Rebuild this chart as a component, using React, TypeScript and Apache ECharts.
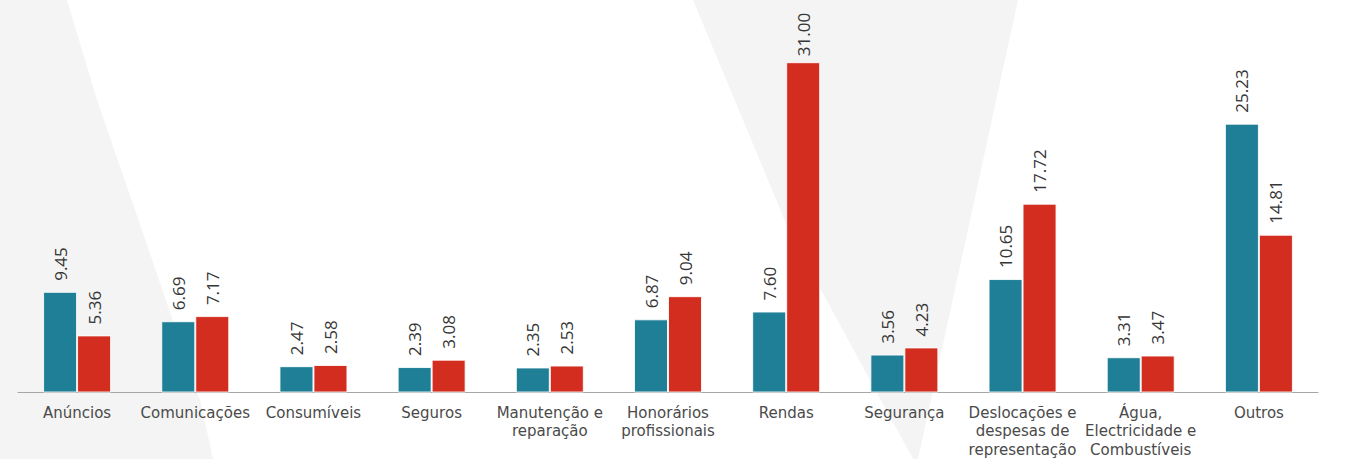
import React, { useEffect, useRef } from "react";
import * as echarts from "echarts";

const categories = [
  "Anúncios",
  "Comunicações",
  "Consumíveis",
  "Seguros",
  "Manutenção e\nreparação",
  "Honorários\nprofissionais",
  "Rendas",
  "Segurança",
  "Deslocações e\ndespesas de\nrepresentação",
  "Água,\nElectricidade e\nCombustíveis",
  "Outros",
];

const seriesA = [9.45, 6.69, 2.47, 2.39, 2.35, 6.87, 7.6, 3.56, 10.65, 3.31, 25.23];
const seriesB = [5.36, 7.17, 2.58, 3.08, 2.53, 9.04, 31.0, 4.23, 17.72, 3.47, 14.81];

const TEAL = "#1f7f96";
const RED = "#d22d1f";
const BG = "#f4f4f4";

export default function App() {
  const ref = useRef<HTMLDivElement>(null);

  useEffect(() => {
    if (!ref.current) return;
    const chart = echarts.init(ref.current, null, { renderer: "svg" });

    const labelCfg = {
      show: true,
      position: "top" as const,
      rotate: 90,
      align: "left" as const,
      verticalAlign: "middle" as const,
      distance: 11,
      color: "#363636",
      fontFamily: "Open Sans",
      fontSize: 17,
      formatter: (p: any) => Number(p.value).toFixed(2),
    };

    // Excel keeps the tallest label inside the chart area, so it sits closer to its bar
    const maxAll = Math.max(...seriesA, ...seriesB);
    const withClamp = (arr: number[]) =>
      arr.map((v) => (v === maxAll ? { value: v, label: { distance: 6 } } : v));

    chart.setOption({
      animation: false,
      backgroundColor: "#ffffff",
      graphic: [
        {
          type: "polygon",
          z: -10,
          silent: true,
          shape: {
            points: [
              [0, 0],
              [67, 0],
              [97, 100],
              [143, 233],
              [177, 333],
              [200, 400],
              [213, 459],
              [0, 459],
            ],
          },
          style: { fill: BG },
        },
        {
          type: "polygon",
          z: -10,
          silent: true,
          shape: {
            points: [
              [693, 0],
              [790, 233],
              [913, 459],
              [918, 459],
              [1018, 0],
            ],
          },
          style: { fill: BG },
        },
      ],
      grid: { left: 18, right: 34, top: 19.6, bottom: 62.5, containLabel: false },
      xAxis: {
        type: "category",
        data: categories,
        axisLine: { show: true, lineStyle: { color: "#a6a6a6", width: 1 } },
        axisTick: { show: false },
        axisLabel: {
          interval: 0,
          margin: 11,
          color: "#4a4a4a",
          fontFamily: "DejaVu Sans",
          fontSize: 15,
          lineHeight: 18.5,
          align: "center",
          verticalAlign: "top",
        },
      },
      yAxis: {
        type: "value",
        min: 0,
        max: 35,
        show: false,
        splitLine: { show: false },
      },
      series: [
        {
          type: "bar",
          data: withClamp(seriesA),
          barWidth: 34,
          barGap: "0%",
          itemStyle: { color: TEAL, borderColor: "rgba(255,255,255,0.85)", borderWidth: 1 },
          label: labelCfg,
        },
        {
          type: "bar",
          data: withClamp(seriesB),
          barWidth: 34,
          barGap: "0%",
          itemStyle: { color: RED, borderColor: "rgba(255,255,255,0.85)", borderWidth: 1 },
          label: labelCfg,
        },
      ],
    });

    return () => chart.dispose();
  }, []);

  return (
    <div
      ref={ref}
      style={{ position: "fixed", left: 0, top: 0, width: 1352, height: 459 }}
    />
  );
}
